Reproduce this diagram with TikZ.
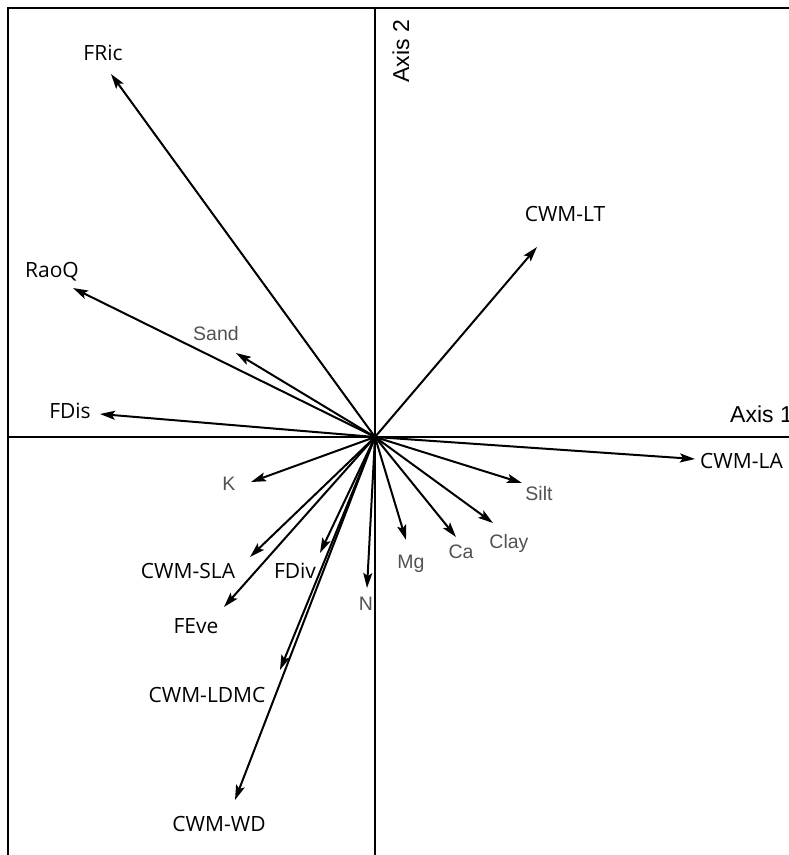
\documentclass[tikz,border=0pt]{standalone}
\usepackage{fontspec}
\setmainfont{Open Sans}
\newfontfamily\arialf{Liberation Sans}
\usetikzlibrary{arrows.meta}
\begin{document}
\begin{tikzpicture}[x=1pt,y=-1pt,
  vec/.style={line width=2pt,-{Stealth[length=15pt,width=9pt,inset=3pt]}},
  axisline/.style={line width=2.2pt},
  blab/.style={inner sep=0pt,anchor=base,font=\fontsize{21}{25}\selectfont},
  glab/.style={inner sep=0pt,anchor=base,text=black!68,font=\arialf\fontsize{19.5}{23}\selectfont},
  axlab/.style={inner sep=0pt,font=\arialf\fontsize{23}{27}\selectfont}]
\useasboundingbox (0,0) rectangle (789,855);
\fill[white] (0,0) rectangle (789,855);
% frame
\draw[line width=2.8pt] (8,855) -- (8,8) -- (789,8);
% axes
\coordinate (O) at (375,437);
\draw[axisline] (375,8) -- (375,855);
\draw[axisline] (8,437) -- (789,437);
\node[axlab,anchor=base west] (ax1) at (730,422) {Axis 1};
\node[axlab,anchor=base west,rotate=90] (ax2) at (409,83) {Axis 2};
% tips
\coordinate (tFRic) at (111,74);
\coordinate (tRaoQ) at (73,288);
\coordinate (tSand) at (236,353);
\coordinate (tFDis) at (100,414);
\coordinate (tLT) at (537,247);
\coordinate (tLA) at (695,459);
\coordinate (tSilt) at (522,483);
\coordinate (tClay) at (493,523);
\coordinate (tCa) at (456,537);
\coordinate (tMg) at (406,540);
\coordinate (tN) at (367,588);
\coordinate (tK) at (251,482);
\coordinate (tFDiv) at (320,553);
\coordinate (tSLA) at (250,557);
\coordinate (tFEve) at (224,607);
\coordinate (tLDMC) at (280,670);
\coordinate (tWD) at (235,800);
\foreach \t in {tFRic,tRaoQ,tSand,tFDis,tLT,tLA,tSilt,tClay,tCa,tMg,tN,tK,tFDiv,tSLA,tFEve,tLDMC,tWD}
  \draw[vec] (O) -- (\t);
% labels
\node[blab] (lFRic) at (103,60) {FRic};
\node[blab] (lRaoQ) at (52,277) {RaoQ};
\node[glab] (lSand) at (216,340) {Sand};
\node[blab] (lFDis) at (70,418) {FDis};
\node[blab] (lLT) at (565,221) {CWM-LT};
\node[blab,anchor=base west] (lLA) at (700,468) {CWM-LA};
\node[glab] (lSilt) at (539,500) {Silt};
\node[glab] (lClay) at (509,548) {Clay};
\node[glab] (lCa) at (461,558) {Ca};
\node[glab] (lMg) at (411,568) {Mg};
\node[glab] (lN) at (366,610) {N};
\node[glab] (lK) at (229,490) {K};
\node[blab] (lFDiv) at (295,578) {FDiv};
\node[blab] (lSLA) at (188,578) {CWM-SLA};
\node[blab] (lFEve) at (196,633) {FEve};
\node[blab] (lLDMC) at (207,702) {CWM-LDMC};
\node[blab] (lWD) at (219,831) {CWM-WD};
\end{tikzpicture}
\end{document}
